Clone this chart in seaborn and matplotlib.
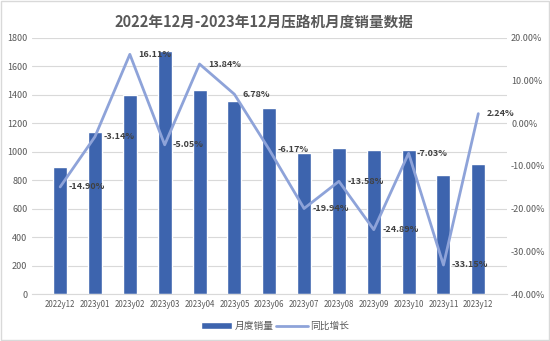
import numpy as np
import matplotlib
matplotlib.use("Agg")
import matplotlib.pyplot as plt
from matplotlib.ticker import FuncFormatter, MultipleLocator
import seaborn as sns

# Monthly roller sales, Dec 2022 – Dec 2023
months = ["2022y12", "2023y01", "2023y02", "2023y03", "2023y04", "2023y05", "2023y06",
          "2023y07", "2023y08", "2023y09", "2023y10", "2023y11", "2023y12"]
sales = [893, 1141, 1398, 1709, 1431, 1356, 1307, 993, 1029, 1012, 1015, 839, 914]
yoy = [-14.90, -3.14, 16.11, -5.05, 13.84, 6.78, -6.17, -19.94, -13.58, -24.89, -7.03, -33.15, 2.24]

title = "2022年12月-2023年12月压路机月度销量数据"
bar_label = "月度销量"
line_label = "同比增长"

BAR_COLOR = "#3d64ae"
LINE_COLOR = "#8ea3d9"
TEXT_COLOR = "#595959"
GRID_COLOR = "#d9d9d9"

sns.set_theme(style="white")
plt.rcParams["font.family"] = ["Noto Sans CJK SC", "DejaVu Sans"]

fig = plt.figure(figsize=(5.5, 3.41), dpi=100)
ax = fig.add_axes([0.0574, 0.137, 0.8642, 0.7525])

sns.barplot(x=months, y=sales, color=BAR_COLOR, saturation=1, width=0.4,
            ax=ax, label=bar_label, zorder=2)
if ax.get_legend() is not None:
    ax.get_legend().remove()
ax.set_ylim(0, 1800)
ax.yaxis.set_major_locator(MultipleLocator(200))
ax.set_xlabel("")
ax.set_ylabel("")
ax.grid(axis="y", color=GRID_COLOR, linewidth=0.8, zorder=0)
ax.set_axisbelow(True)
for side in ["top", "left", "right"]:
    ax.spines[side].set_visible(False)
ax.spines["bottom"].set_color(GRID_COLOR)
ax.spines["bottom"].set_linewidth(0.8)
ax.tick_params(axis="y", length=0, labelsize=6.5, colors=TEXT_COLOR, pad=3)
ax.tick_params(axis="x", length=0, labelsize=5.7, colors=TEXT_COLOR, pad=4)

ax2 = ax.twinx()
x_pos = np.arange(len(months))
sns.lineplot(x=x_pos, y=yoy, ax=ax2, color=LINE_COLOR, linewidth=2.0,
             label=line_label, legend=False)
ax2.set_ylim(-40, 20)
ax2.yaxis.set_major_locator(MultipleLocator(10))
ax2.yaxis.set_major_formatter(FuncFormatter(lambda v, p: f"{v:.2f}%"))
ax2.set_ylabel("")
for side in ["top", "left", "right", "bottom"]:
    ax2.spines[side].set_visible(False)
ax2.tick_params(axis="y", length=0, labelsize=6.5, colors=TEXT_COLOR, pad=3)
ax2.grid(False)

for xi, v in zip(x_pos, yoy):
    ax2.annotate(f"{v:.2f}%", (xi, v), xytext=(6, 0), textcoords="offset points",
                 ha="left", va="center", fontsize=6.5, color="#404040",
                 fontweight="bold")

fig.text(0.48, 0.938, title, ha="center", va="center", fontsize=10.5,
         fontweight="bold", color=TEXT_COLOR)

h1, l1 = ax.get_legend_handles_labels()
h2, l2 = ax2.get_legend_handles_labels()
fig.legend(h1 + h2, l1 + l2, loc="center", bbox_to_anchor=(0.5, 0.044), ncol=2,
           frameon=False, fontsize=7, labelcolor=TEXT_COLOR, handlelength=3.2,
           handleheight=0.6, columnspacing=0.3, handletextpad=0.3)

fig.patches.append(plt.Rectangle((0.002, 0.003), 0.996, 0.994, transform=fig.transFigure,
                                 fill=False, edgecolor=GRID_COLOR, linewidth=1))

fig.savefig("out.png", dpi=100)
